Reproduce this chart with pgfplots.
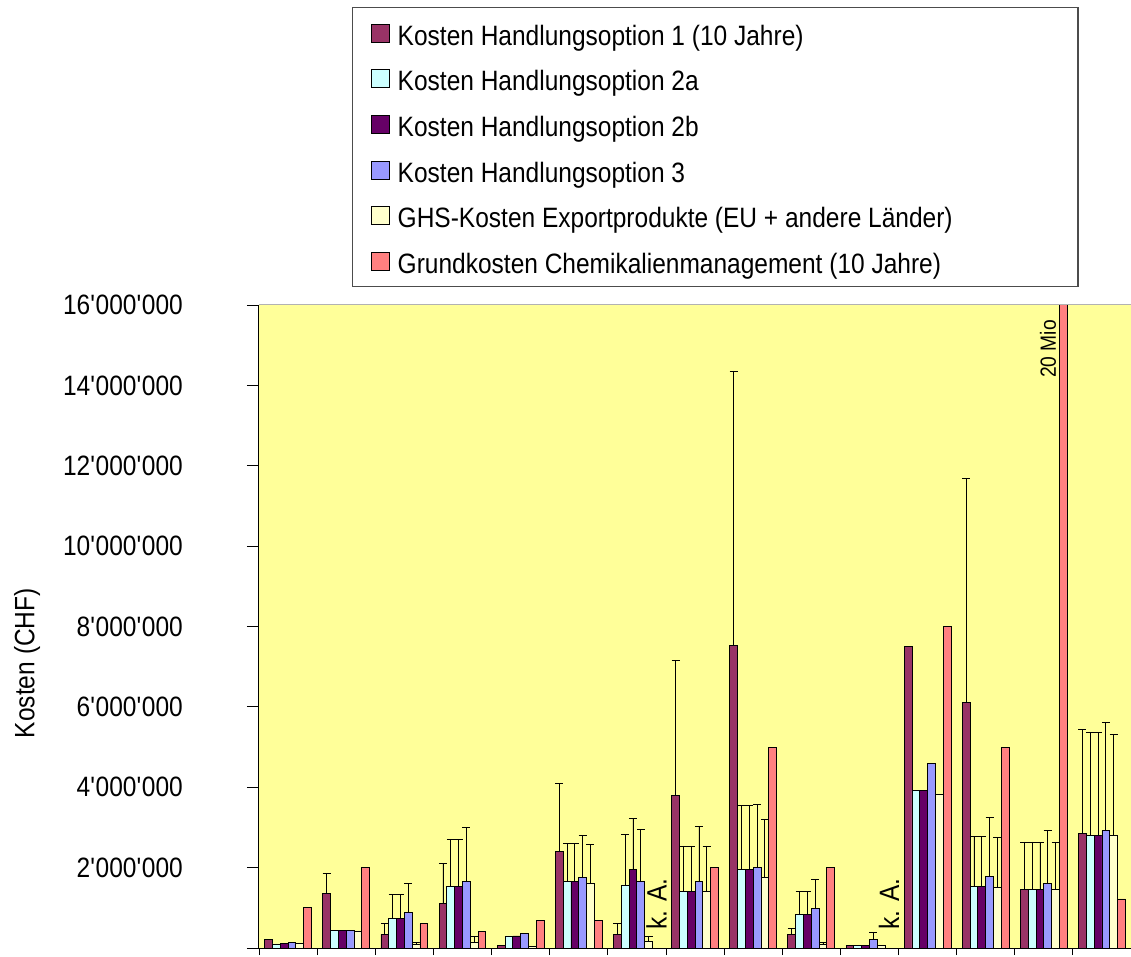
\documentclass[border=0pt]{standalone}
\usepackage{fontspec}
\setmainfont{Liberation Sans}[FakeStretch=0.875]
\usepackage{pgfplots}
\pgfplotsset{compat=1.18}
\usepackage{pgfplotstable}

\definecolor{c1}{HTML}{993366}
\definecolor{c2}{HTML}{CCFFFF}
\definecolor{c3}{HTML}{660066}
\definecolor{c4}{HTML}{9999FF}
\definecolor{c5}{HTML}{FFFFCC}
\definecolor{c6}{HTML}{FF8080}
\definecolor{plotbg}{HTML}{FFFF99}

% Kosten in Mio CHF, e* = Fehlerbalken nach oben
\pgfplotstableread{
g  a    ea   b    eb   c    ec   d    ed   e    ee   f
0  0.22 0    0.10 0    0.12 0    0.14 0    0.12 0    1.00
1  1.36 0.50 0.44 0    0.44 0    0.44 0    0.41 0    2.00
2  0.34 0.26 0.74 0.59 0.74 0.59 0.89 0.72 0.09 0.06 0.60
3  1.11 0.99 1.54 1.17 1.54 1.17 1.66 1.35 0.14 0.14 0.41
4  0.07 0    0.30 0    0.30 0    0.36 0    0.03 0    0.69
5  2.40 1.69 1.65 0.95 1.65 0.95 1.76 1.03 1.61 0.97 0.69
6  0.34 0.26 1.57 1.25 1.96 1.26 1.65 1.31 0.16 0.12 nan
7  3.79 3.37 1.40 1.14 1.40 1.14 1.65 1.38 1.40 1.14 2.00
8  7.53 6.83 1.95 1.59 1.95 1.59 2.00 1.58 1.76 1.44 5.00
9  0.34 0.15 0.84 0.56 0.84 0.56 0.99 0.72 0.08 0.05 2.00
10 0.07 0    0.07 0    0.07 0    0.22 0.17 0.07 0    nan
11 7.51 0    3.92 0    3.92 0    4.60 0    3.82 0    8.00
12 6.12 5.56 1.53 1.24 1.53 1.24 1.77 1.47 1.51 1.23 5.00
13 1.46 1.18 1.46 1.18 1.46 1.18 1.61 1.32 1.46 1.18 20.00
14 2.85 2.59 2.79 2.57 2.79 2.57 2.92 2.69 2.79 2.53 1.22
}\kosten

\newcommand\q{\textquotesingle}
\newcommand\ltext[1]{\makebox[662pt][l]{#1}}

\pgfplotsset{
  mybar/.style={fill=#1, draw=black, line width=0.8pt,
    legend image code/.code={\draw[##1, line width=1pt] (0pt,-9pt) rectangle (18pt,9pt);}},
}

\begin{document}
\begin{tikzpicture}[font=\fontsize{28}{33}\selectfont]
\begin{axis}[
  name=ax,
  at={(0pt,0pt)}, anchor=south west,
  width=872pt, height=643pt, scale only axis,
  xmin=-0.5, xmax=14.5, ymin=0, ymax=16,
  ybar=0pt, bar width=7.8pt,
  axis background/.style={fill=plotbg},
  axis x line*=bottom, axis y line*=left,
  axis line style={-, black, line width=1pt},
  tick align=outside, major tick length=12pt,
  every major x tick/.append style={/pgfplots/major tick length=7pt},
  tick style={black, line width=0.8pt},
  xtick={-0.5,0.5,...,14.5}, xticklabels={},
  ytick={0,2,...,16},
  yticklabels={,2\q000\q000,4\q000\q000,6\q000\q000,8\q000\q000,10\q000\q000,12\q000\q000,14\q000\q000,16\q000\q000},
  yticklabel style={inner sep=0pt, xshift=-64pt},
  ylabel={Kosten (CHF)},
  ylabel style={at={(axis description cs:-0.266,0.443)}, anchor=center},
  error bars/error bar style={black, line width=0.8pt},
  error bars/error mark options={rotate=90, mark size=4pt, black, line width=0.8pt},
  legend cell align=left,
  legend style={at={(axis description cs:0.10665,1.4635)}, anchor=north west,
    draw=black!70, line width=1.5pt, fill=white,
    inner xsep=18pt, inner ysep=13.5pt, row sep=21.6pt, column sep=8pt,
    nodes={inner sep=0pt, text height=24pt, text depth=0pt, anchor=west}},
]
\addplot[mybar=c1, error bars/.cd, y dir=plus, y explicit] table[x=g, y=a, y error=ea] {\kosten};
\addlegendentry{\ltext{Kosten Handlungsoption 1 (10 Jahre)}}
\addplot[mybar=c2, error bars/.cd, y dir=plus, y explicit] table[x=g, y=b, y error=eb] {\kosten};
\addlegendentry{\ltext{Kosten Handlungsoption 2a}}
\addplot[mybar=c3, error bars/.cd, y dir=plus, y explicit] table[x=g, y=c, y error=ec] {\kosten};
\addlegendentry{\ltext{Kosten Handlungsoption 2b}}
\addplot[mybar=c4, error bars/.cd, y dir=plus, y explicit] table[x=g, y=d, y error=ed] {\kosten};
\addlegendentry{\ltext{Kosten Handlungsoption 3}}
\addplot[mybar=c5, error bars/.cd, y dir=plus, y explicit] table[x=g, y=e, y error=ee] {\kosten};
\addlegendentry{\ltext{GHS-Kosten Exportprodukte (EU + andere Länder)}}
\addplot[mybar=c6] table[x=g, y=f] {\kosten};
\addlegendentry{\ltext{Grundkosten Chemikalienmanagement (10 Jahre)}}

\node[rotate=90, anchor=west, inner sep=0pt] at (axis cs:6.337,0.45) {k. A.};
\node[rotate=90, anchor=west, inner sep=0pt] at (axis cs:10.337,0.45) {k. A.};
\node[rotate=90, anchor=south east, inner sep=0pt, font=\fontsize{22}{26}\selectfont] at (axis cs:13.216,15.63) {20 Mio};
\end{axis}
\draw[black!30, line width=1pt] (ax.north west) -- (ax.north east);
\pgfresetboundingbox
\path (-259pt,-8pt) rectangle (872pt,948pt);
\end{tikzpicture}
\end{document}
